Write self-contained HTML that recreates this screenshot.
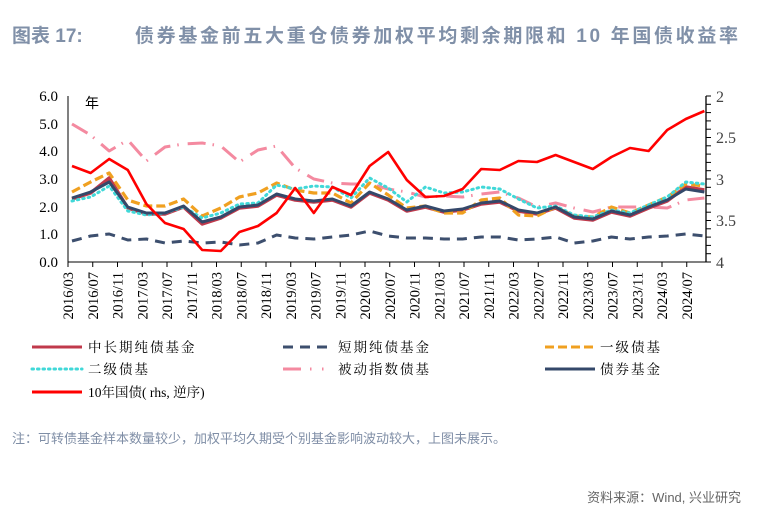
<!DOCTYPE html>
<html><head><meta charset="utf-8"><style>
body{margin:0;background:#fff;width:774px;height:532px;overflow:hidden}
svg{display:block}
text{font-family:"Liberation Serif","Noto Serif CJK SC",serif}
.cj{font-family:"Liberation Sans","Noto Sans CJK SC",sans-serif}
</style></head><body>
<svg id="s" width="774" height="532" xmlns="http://www.w3.org/2000/svg">
<text x="12" y="42" class="cj" font-size="19" font-weight="bold" fill="#8090a8">图表 17:</text>
<text x="135" y="42" class="cj" font-size="19" font-weight="bold" fill="#8090a8" textLength="603">债券基金前五大重仓债券加权平均剩余期限和  10 年国债收益率</text>
<g id="ax" stroke="#000" stroke-width="1" fill="none">
<line x1="68" y1="96" x2="68" y2="262"/>
<line x1="68" y1="262" x2="706" y2="262"/>
<line x1="706" y1="96" x2="706" y2="262" stroke-width="1.3"/>
</g>
<g font-size="15" fill="#000">
<text x="58" y="101" text-anchor="end">6.0</text>
<text x="58" y="129" text-anchor="end">5.0</text>
<text x="58" y="156" text-anchor="end">4.0</text>
<text x="58" y="184" text-anchor="end">3.0</text>
<text x="58" y="212" text-anchor="end">2.0</text>
<text x="58" y="239" text-anchor="end">1.0</text>
<text x="58" y="267" text-anchor="end">0.0</text>
</g>
<g font-size="16" fill="#444" class="cj">
<text x="716" y="102">2</text>
<text x="716" y="143">2.5</text>
<text x="716" y="185">3</text>
<text x="716" y="226">3.5</text>
<text x="716" y="268">4</text>
</g>
<text x="85" y="108" class="cj" font-size="14" fill="#000">年</text>
<g id="g"></g>
<g class="cj" font-size="13.5" fill="#000">
<line x1="32" y1="347" x2="82" y2="347" stroke="#c0394b" stroke-width="3"/>
<text x="88" y="352" letter-spacing="2">中长期纯债基金</text>
<line x1="283" y1="347" x2="333" y2="347" stroke="#3d4f6e" stroke-width="3" stroke-dasharray="10,7"/>
<text x="338" y="352" letter-spacing="2">短期纯债基金</text>
<line x1="545" y1="347" x2="595" y2="347" stroke="#f0a020" stroke-width="3" stroke-dasharray="9,4"/>
<text x="600" y="352" letter-spacing="2">一级债基</text>
<line x1="32" y1="369" x2="82" y2="369" stroke="#40d8d8" stroke-width="3" stroke-dasharray="1.5,4" stroke-linecap="round"/>
<text x="88" y="374" letter-spacing="2">二级债基</text>
<path d="M283 369h18M310 369h1.5M322 369h1.5" stroke="#f48aa0" stroke-width="3"/>
<text x="338" y="374" letter-spacing="2">被动指数债基</text>
<line x1="545" y1="369" x2="595" y2="369" stroke="#34486a" stroke-width="3"/>
<text x="600" y="374" letter-spacing="2">债券基金</text>
<line x1="32" y1="392" x2="82" y2="392" stroke="#f00" stroke-width="3"/>
<text x="88" y="397">10年国债( rhs, 逆序)</text>
</g>
<text x="12" y="443" class="cj" font-size="13" fill="#7f8ea6">注：可转债基金样本数量较少，加权平均久期受个别基金影响波动较大，上图未展示。</text>
<text x="741" y="502" text-anchor="end" class="cj" font-size="13" fill="#666">资料来源：Wind, 兴业研究</text>
</svg>
<script>
var g=document.getElementById('g'),ns='http://www.w3.org/2000/svg',h='';
var labs=[];for(var y=2016;y<=2024;y++)for(var m of ['03','07','11'])labs.push(y+'/'+m);labs=labs.slice(0,26);
labs.forEach(function(l,k){var x=68+24.75*k;h+='<line x1="'+x+'" y1="262" x2="'+x+'" y2="267" stroke="#000"/>';
h+='<text transform="translate('+(x+5)+',272) rotate(-90)" text-anchor="end" font-size="14.5" font-family="Liberation Serif,serif">'+l+'</text>';});
for(var i=0;i<=20;i++){var y=96+i*8.3;var w=i%5==0?0:(1);h+='<line x1="706" y1="'+y+'" x2="'+(711)+'" y2="'+y+'" stroke="#000"/>';}
function P(a,c,w,d,lc){var p=a.map(function(v,i){return (72+18.6*i).toFixed(1)+','+v}).join(' ');
h+='<polyline points="'+p+'" fill="none" stroke="'+c+'" stroke-width="'+w+'" stroke-linejoin="round"'+(d?' stroke-dasharray="'+d+'"':'')+(lc?' stroke-linecap="round"':'')+'/>';}
var bond=[198,192,182,207,213,213,206,222,217,207,205,194,199,201,199,206,192,199,210,206,211,209,203,201,210,213,207,217,219,211,215,207,200,189,192];
var ml=bond.map(function(v){return v+1});ml[2]=178;ml[7]=224;ml[33]=187;ml[34]=190;
P([124,135,151,140,161,147,144,143,146,162,150,146,168,179,183,184,184,189,192,197,196,197,194,192,198,207,203,208,212,207,207,207,208,200,198],'#f48aa0',3,'18,7,1.5,9');
P([241,236,234,240,239,243,241,243,242,245,243,235,238,239,237,235,231,236,238,238,239,239,237,237,240,239,237,243,241,237,239,237,236,234,236],'#3d4f6e',3,'10,7');
P(ml,'#c0394b',3.5);
P([192,182,173,200,206,206,199,216,208,197,193,183,190,193,193,203,183,195,208,206,213,213,200,198,215,216,207,216,217,207,213,205,197,184,186],'#f0a020',3.2,'9,4');
P([201,197,186,211,215,213,207,218,213,204,203,185,189,186,187,198,178,188,202,187,193,192,187,189,199,208,206,215,217,210,213,205,197,182,184],'#40d8d8',3,'1.5,4',1);
P(bond,'#34486a',3);
P([166,173,159,170,204,223,229,250,251,232,226,213,188,213,187,195,166,152,180,197,196,189,169,170,161,162,155,162,169,157,148,151,130,119,111],'#f00',2.6);
g.innerHTML=h;
</script>
</body></html>
